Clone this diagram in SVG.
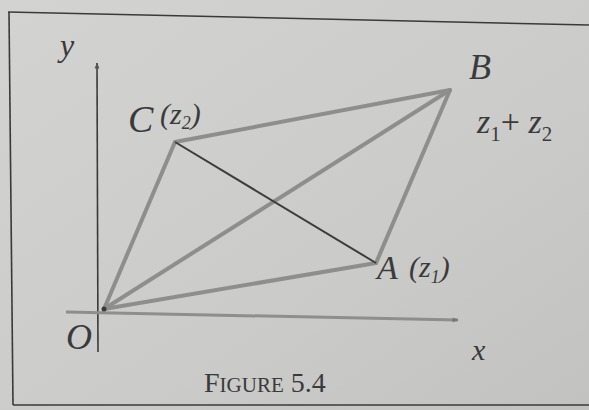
<svg xmlns="http://www.w3.org/2000/svg" width="589" height="410" viewBox="0 0 589 410">
<defs>
<linearGradient id="bg" x1="0" y1="0" x2="1" y2="1">
<stop offset="0" stop-color="#d3d3d1"/>
<stop offset="0.6" stop-color="#cbcbc9"/>
<stop offset="1" stop-color="#c2c2c0"/>
</linearGradient>
<marker id="ah" viewBox="0 0 10 10" refX="9" refY="5" markerWidth="7" markerHeight="6" orient="auto" markerUnits="userSpaceOnUse">
<path d="M0,1 L10,5 L0,9 z" fill="#555"/>
</marker>
<marker id="ahx" viewBox="0 0 10 10" refX="9" refY="5" markerWidth="9" markerHeight="6" orient="auto" markerUnits="userSpaceOnUse">
<path d="M0,1 L10,5 L0,9 z" fill="#777"/>
</marker>
</defs>
<style>
.lbl{font-family:"Liberation Serif","Times New Roman",serif;font-style:italic;fill:#3a3a3a;}
.side{stroke:#8e8e8c;stroke-width:4;stroke-linecap:round;fill:none;}
.diag{stroke:#3c3c3c;stroke-width:2;fill:none;}
.frame{stroke:#3a3a3a;stroke-width:1.6;fill:none;}
.cap{font-family:"Liberation Serif","Times New Roman",serif;fill:#3a3a3a;}
</style>
<rect width="589" height="410" fill="url(#bg)"/>
<g id="frame">
<path class="frame" d="M8,12 L589,25"/>
<path class="frame" d="M9,12 L13,405"/>
<path class="frame" d="M13,405 L589,405" stroke="#555"/>
</g>
<g id="axes">
<line x1="98" y1="352" x2="97" y2="63" stroke="#3a3a3a" stroke-width="1.6" marker-end="url(#ah)"/>
<line x1="66" y1="312" x2="458" y2="320" stroke="#8e8e8c" stroke-width="3" marker-end="url(#ahx)"/>
</g>
<g id="connectors">
<line class="side" x1="104" y1="309" x2="175" y2="142"/>
<line class="side" x1="175" y1="142" x2="450" y2="90"/>
<line class="side" x1="450" y1="90" x2="376" y2="263"/>
<line class="side" x1="376" y1="263" x2="104" y2="309"/>
<line class="side" x1="104" y1="309" x2="450" y2="90"/>
<line class="diag" x1="175" y1="142" x2="376" y2="263"/>
</g>
<g id="node-O">
<circle cx="104" cy="309" r="2.5" fill="#3a3a3a"/>
<text class="lbl" x="66" y="349" font-size="36">O</text>
</g>
<g id="node-C">
<text class="lbl" x="128" y="132" font-size="38">C</text>
<text class="lbl" x="160" y="124" font-size="30">(z<tspan font-size="18" dy="5">2</tspan><tspan dy="-5">)</tspan></text>
</g>
<g id="node-A">
<text class="lbl" x="377" y="279" font-size="34">A</text>
<text class="lbl" x="409" y="277" font-size="30">(z<tspan font-size="18" dy="6">1</tspan><tspan dy="-6">)</tspan></text>
</g>
<g id="node-B">
<text class="lbl" x="469" y="79" font-size="36">B</text>
<text class="lbl" x="477" y="133" font-size="34">z<tspan font-size="21" font-style="normal" dy="8">1</tspan><tspan dy="-8" font-style="normal">+ </tspan>z<tspan font-size="21" font-style="normal" dy="8">2</tspan></text>
</g>
<g id="labels">
<text class="lbl" x="60" y="56" font-size="32">y</text>
<text class="lbl" x="472" y="360" font-size="30">x</text>
<text class="cap" x="204" y="392" font-size="28">F<tspan font-size="21">IGURE</tspan> 5.4</text>
</g>
</svg>
